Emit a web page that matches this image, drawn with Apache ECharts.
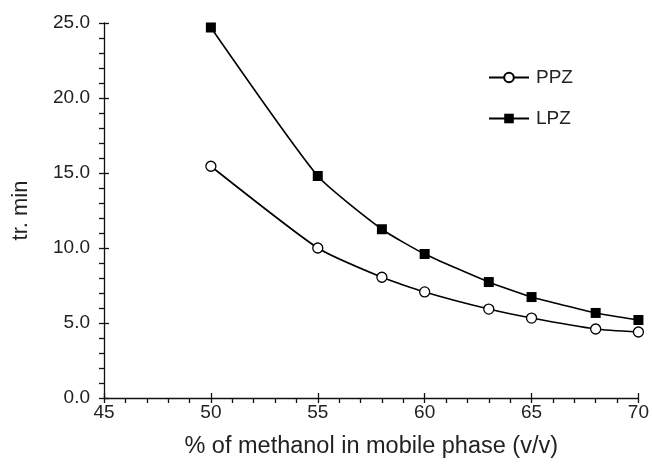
<!DOCTYPE html>
<html><head><meta charset="utf-8">
<script src="https://cdn.jsdelivr.net/npm/echarts@6/dist/echarts.min.js"></script>
<style>html,body{margin:0;padding:0;background:#fff}#c{width:652px;height:466px}</style>
</head><body><div id="c"></div>
<script>
const methanol = [50, 55, 58, 60, 63, 65, 68, 70];
const ppz = [15.45, 10.0, 8.05, 7.07, 5.93, 5.33, 4.6, 4.4];
const lpz = [24.7, 14.8, 11.25, 9.6, 7.73, 6.73, 5.67, 5.2];
const seriesNames = ['PPZ', 'LPZ'];
const xTitle = '% of methanol in mobile phase (v/v)';
const yTitle = 'tr. min';

const font = 'Liberation Sans, Arial, sans-serif';
const chart = echarts.init(document.getElementById('c'));
const grid = {left: 104, right: 7, top: 23, bottom: 68};
const baseX = {type: 'value', min: 45, max: 70, interval: 5, position: 'bottom'};
const baseY = {type: 'value', min: 0, max: 25, interval: 5, position: 'left'};
const tickStyle = {color: '#111', width: 1.3};
chart.setOption({
  animation: false,
  grid: grid,
  legend: {
    orient: 'vertical', left: 483, top: 63, itemWidth: 40, itemHeight: 12, itemGap: 22,
    data: seriesNames,
    textStyle: {fontFamily: font, fontSize: 19, color: '#222', padding: [0, 0, 0, 2]}
  },
  xAxis: [
    Object.assign({}, baseX, {
      name: xTitle, nameLocation: 'middle', nameGap: 37,
      nameTextStyle: {fontFamily: font, fontSize: 23.5, color: '#222'},
      axisLine: {lineStyle: tickStyle},
      axisTick: {length: 5, lineStyle: tickStyle},
      minorTick: {show: true, splitNumber: 5, length: 5, lineStyle: tickStyle},
      axisLabel: {fontFamily: font, fontSize: 19, color: '#222', margin: 5},
      splitLine: {show: false}
    }),
    Object.assign({}, baseX, {
      axisLine: {show: false},
      axisTick: {inside: true, length: 5, lineStyle: tickStyle},
      axisLabel: {show: false}, splitLine: {show: false}
    })
  ],
  yAxis: [
    Object.assign({}, baseY, {
      name: yTitle, nameLocation: 'middle', nameGap: 72, nameRotate: 90,
      nameTextStyle: {fontFamily: font, fontSize: 22, color: '#222'},
      axisLine: {lineStyle: tickStyle},
      axisTick: {length: 5, lineStyle: tickStyle},
      minorTick: {show: true, splitNumber: 5, length: 5, lineStyle: tickStyle},
      axisLabel: {fontFamily: font, fontSize: 19, color: '#222', margin: 14,
        formatter: v => v.toFixed(1)},
      splitLine: {show: false}
    }),
    Object.assign({}, baseY, {
      axisLine: {show: false},
      axisTick: {inside: true, length: 5, lineStyle: tickStyle},
      axisLabel: {show: false}, splitLine: {show: false}
    })
  ],
  series: [
    {
      name: seriesNames[0], type: 'line', smooth: 0.18,
      data: methanol.map((x, i) => [x, ppz[i]]),
      symbol: 'circle', symbolSize: 10, showAllSymbol: true,
      itemStyle: {color: '#fff', borderColor: '#000', borderWidth: 1.3},
      lineStyle: {color: '#000', width: 1.6}
    },
    {
      name: seriesNames[1], type: 'line', smooth: 0.18,
      data: methanol.map((x, i) => [x, lpz[i]]),
      symbol: 'rect', symbolSize: 10, showAllSymbol: true,
      itemStyle: {color: '#000', borderColor: '#000', borderWidth: 0},
      lineStyle: {color: '#000', width: 1.6}
    }
  ]
});
</script></body></html>
